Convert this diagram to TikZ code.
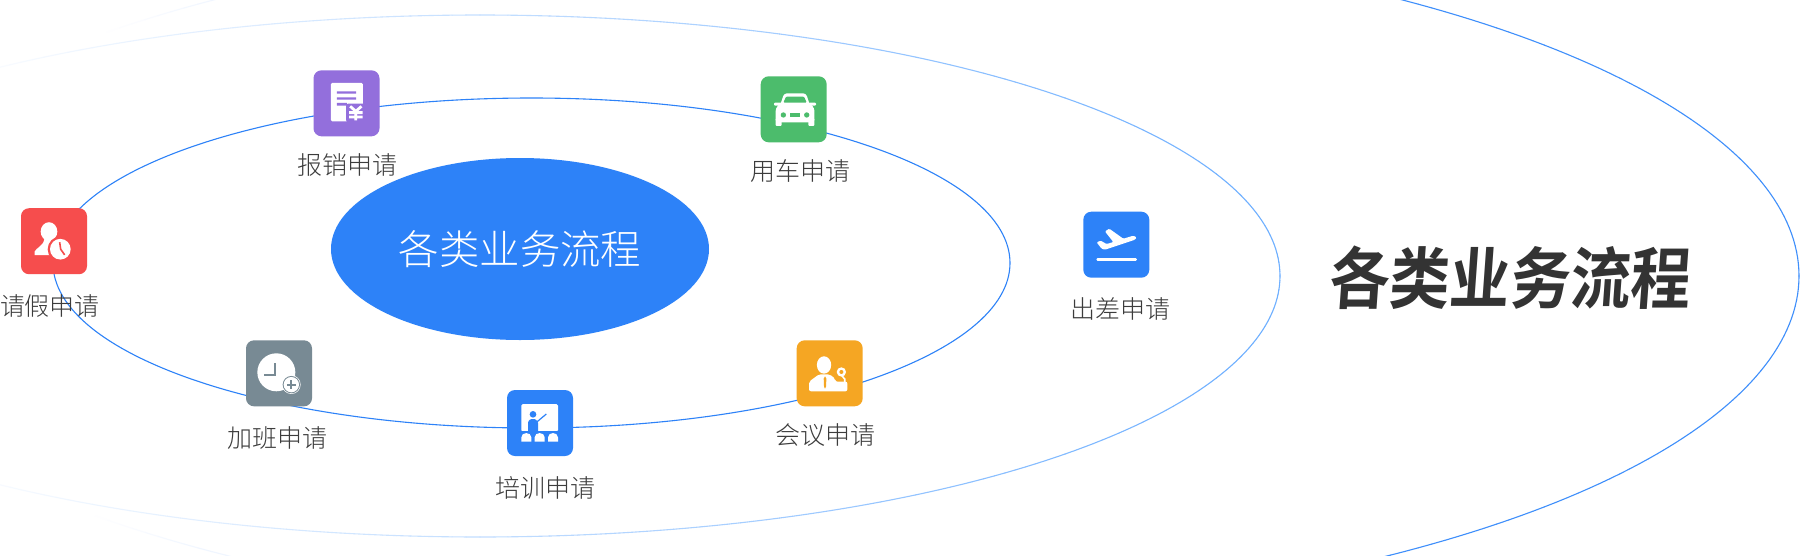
\documentclass[tikz,border=0pt]{standalone}
\usepackage{fontspec}
\usetikzlibrary{shapes.geometric}
\setmainfont{Noto Sans CJK SC Light}
\newfontfamily\titlefont[FakeSlant=0.08]{Noto Sans CJK SC Bold}
\definecolor{cpurple}{HTML}{936FDC}
\definecolor{cgreen}{HTML}{4CBC6C}
\definecolor{cred}{HTML}{F64D4D}
\definecolor{cgray}{HTML}{788A94}
\definecolor{cblue}{HTML}{2D82F8}
\definecolor{corange}{HTML}{F5A623}
\definecolor{ctext}{HTML}{3C3C3C}
\definecolor{cmid}{HTML}{6FB0FF}
\definecolor{couter}{HTML}{3F8FFB}
\tikzset{
  tile/.style={rounded corners=8pt,minimum size=66pt,inner sep=0pt,outer sep=0pt,fill=#1},
  lbl/.style={text=ctext,inner sep=0pt,font=\fontsize{25}{25}\selectfont},
  icon/.style={x=0.33333pt,y=-0.33333pt}
}
\begin{document}
\begin{tikzpicture}[x=1pt,y=-1pt]
\useasboundingbox (0,0) rectangle (1800,555);
\fill[white] (0,0) rectangle (1800,555);
\begin{scope}
\clip (0,0) rectangle (1800,555);
% outer ellipse, fading to the left
\foreach \a in {0,1,...,359}{
  \pgfmathsetmacro\xa{808+991*cos(\a)}
  \pgfmathsetmacro\ya{276+345*sin(\a)}
  \pgfmathsetmacro\xb{808+991*cos(\a+1)}
  \pgfmathsetmacro\yb{276+345*sin(\a+1)}
  \pgfmathsetmacro\m{\xa>1000?100:max(0,min(8,(\xa-100)/14))}
  \draw[draw={couter!\m!white},line width=1.1pt,line cap=round] (\xa,\ya) -- (\xb,\yb);
}
% middle ellipse, fading to the left
\foreach \a in {0,1,...,359}{
  \pgfmathsetmacro\xa{480+800*cos(\a)}
  \pgfmathsetmacro\ya{276+261*sin(\a)}
  \pgfmathsetmacro\xb{480+800*cos(\a+1)}
  \pgfmathsetmacro\yb{276+261*sin(\a+1)}
  \pgfmathsetmacro\m{max(5,min(100,5+\xa/1250*95))}
  \draw[draw={cmid!\m!white},line width=1.1pt,line cap=round] (\xa,\ya) -- (\xb,\yb);
}
\end{scope}
\node[ellipse,draw=cblue,line width=1.1pt,minimum width=957pt,minimum height=330pt,inner sep=0pt] (ring) at (531.5,263) {};
\node[ellipse,fill=cblue,minimum width=378pt,minimum height=182pt,inner sep=0pt,text=white,font=\fontsize{40.4}{40.4}\selectfont] (core) at (520,249) {各类业务流程};
% tiles
\node[tile=cpurple] (t1) at (346.5,103.3) {};
\node[tile=cgreen] (t2) at (793.7,109.3) {};
\node[tile=cred] (t3) at (54,241.2) {};
\node[tile=cgray] (t4) at (279,373.3) {};
\node[tile=cblue] (t5) at (540,423) {};
\node[tile=corange] (t6) at (829.7,373.3) {};
\node[tile=cblue] (t7) at (1116.3,244.7) {};
% labels
\node[lbl] (l1) at (347,165) {报销申请};
\node[lbl] (l2) at (800,171) {用车申请};
\node[lbl] (l3) at (50,306) {请假申请};
\node[lbl] (l4) at (277.5,438) {加班申请};
\node[lbl] (l5) at (545,488) {培训申请};
\node[lbl] (l6) at (825.5,435) {会议申请};
\node[lbl] (l7) at (1120,309) {出差申请};
\node[text=black!80,inner sep=0pt,xscale=.9,transform shape,font=\titlefont\fontsize{67}{67}\selectfont] (title) at (1509,278) {各类业务流程};
% purple: receipt
\begin{scope}[shift={(t1.north west)},icon,shift={(-70,-30)}]
\fill[white,rounded corners=1.3pt] (122,68) rectangle (218,183);
\fill[cpurple] (140,93) rectangle (198,100) (140,111) rectangle (198,118) (140,128) rectangle (170,136);
\fill[cpurple,rounded corners=2pt] (168,130) rectangle (224,186);
\draw[white,line width=2.8pt] (180,138) -- (197,153) -- (214,138) (197,153) -- (197,180) (177,157) -- (217,157) (177,170) -- (217,170);
\end{scope}
% green: car
\begin{scope}[shift={(t2.north west)},icon,shift={(-62,-34)}]
\fill[white,rounded corners=3pt] (118,128) -- (132,85) -- (198,85) -- (212,128) -- cycle;
\fill[white,rounded corners=2.5pt] (107,172) -- (107,130) -- (122,113) -- (208,113) -- (223,130) -- (223,172) -- cycle;
\fill[cgreen,rounded corners=1pt] (130,113) -- (138,95) -- (192,95) -- (200,113) -- cycle;
\fill[white,rounded corners=1pt] (102,113) rectangle (125,122) (205,113) rectangle (228,122);
\fill[white,rounded corners=1pt] (107,160) rectangle (125,183) (205,160) rectangle (223,183);
\fill[cgreen] (130,150) circle [radius=8] (200,150) circle [radius=8];
\fill[cgreen] (150,145) rectangle (180,155);
\end{scope}
% red: person with clock
\begin{scope}[shift={(t3.north west)},icon,shift={(-34,-25)}]
\fill[white] (118,95) ellipse [x radius=25,y radius=28];
\fill[white] (75,166) -- (75,155) .. controls (80,143) and (100,140) .. (104,118) -- (134,118) .. controls (136,135) and (150,145) .. (152,166) -- cycle;
\fill[cred] (152,148) circle [radius=38];
\fill[white] (152,148) circle [radius=31];
\draw[cred,line width=1.6pt] (150,127) -- (153,148) -- (165,165);
\end{scope}
% gray: clock plus
\begin{scope}[shift={(t4.north west)},icon,shift={(-34,-31)}]
\fill[white] (125,127) circle [radius=57];
\draw[cgray,line width=1.8pt] (122,100) -- (122,135) -- (88,135);
\fill[white] (170,164) circle [radius=28];
\fill[cgray] (170,164) circle [radius=26];
\fill[white] (170,164) circle [radius=23];
\draw[cgray,line width=2pt] (157,164) -- (183,164) (170,151) -- (170,177);
\end{scope}
% blue: training
\begin{scope}[shift={(t5.north west)},icon,shift={(-37,-30)}]
\fill[white,rounded corners=1.5pt] (80,72) rectangle (190,155);
\fill[cblue] (115,103) circle [radius=10];
\fill[cblue,rounded corners=1pt] (100,158) -- (100,125) -- (108,117) -- (122,117) -- (130,126) -- (130,158) -- cycle;
\draw[cblue,line width=1.2pt] (124,128) -- (155,102);
\fill[cblue] (74,152) rectangle (196,158);
\fill[white] (80,185) -- (80,172) .. controls (80,155) and (110,155) .. (110,172) -- (110,185) -- cycle;
\fill[white] (120,185) -- (120,172) .. controls (120,155) and (150,155) .. (150,172) -- (150,185) -- cycle;
\fill[white] (160,185) -- (160,172) .. controls (160,155) and (190,155) .. (190,172) -- (190,185) -- cycle;
\end{scope}
% orange: speaker
\begin{scope}[shift={(t6.north west)},icon,shift={(-36,-31)}]
\fill[white] (118,105) ellipse [x radius=21.5,y radius=26];
\fill[white,rounded corners=2pt] (73,184) -- (73,155) -- (103,133) -- (135,133) -- (152,147) -- (152,155) -- (188,155) -- (188,184) -- cycle;
\fill[corange] (121,139) -- (125,146) -- (124,170) -- (121,176) -- (118,170) -- (117,146) -- cycle;
\fill[white] (170,126) circle [radius=14];
\fill[corange] (170,126) circle [radius=6];
\draw[white,line width=1.6pt] (172,138) -- (180,147) -- (180,158);
\end{scope}
% blue: plane
\begin{scope}[shift={(t7.north west)},icon,shift={(-40,-36)}]
\fill[white,rounded corners=1pt] (80,128) -- (92,123) -- (110,133) -- (130,127) -- (105,95) -- (118,87) -- (160,117) -- (190,108) -- (200,113) -- (195,120) -- (105,150) -- (95,147) -- cycle;
\draw[white,line width=2.7pt,line cap=round] (83,180) -- (197,180);
\end{scope}
\end{tikzpicture}
\end{document}
